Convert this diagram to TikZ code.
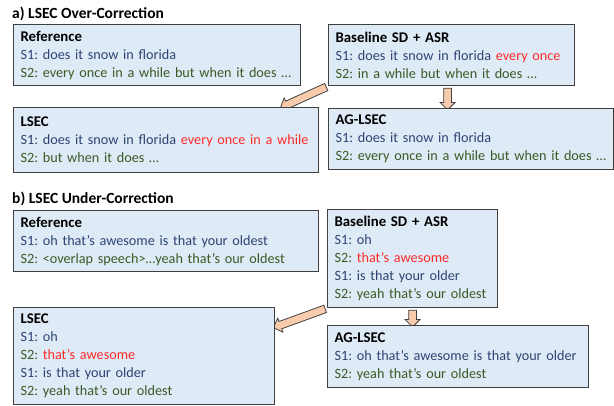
\documentclass[tikz,border=0pt]{standalone}
\usepackage{fontspec}
\setmainfont{Carlito}
\usetikzlibrary{shapes.arrows,calc,backgrounds}
\definecolor{boxfill}{HTML}{DEEAF5}
\definecolor{boxline}{HTML}{404040}
\definecolor{arrowfill}{HTML}{F8CBAD}
\definecolor{sone}{HTML}{2F4475}
\definecolor{stwo}{HTML}{3C5A27}
\definecolor{wrong}{HTML}{FF2B2B}
\frenchspacing
\newcommand\boxhead[1]{{\fontsize{14.8}{18}\selectfont\bfseries #1}}

\begin{document}
\begin{tikzpicture}[x=1pt,y=-1pt,
    txtbox/.style={draw=boxline,fill=boxfill,line width=1.2pt,anchor=north west,inner xsep=7pt,inner ysep=0pt,align=left,font=\fontsize{14.2}{18}\selectfont},
    heading/.style={anchor=base west,inner sep=0pt,font=\fontsize{15.5}{18}\selectfont\bfseries},
    fatarrow/.style={single arrow,draw=boxline,fill=arrowfill,line width=0.8pt,inner sep=0pt,text width=0pt,text height=3.5pt,text depth=3.5pt,single arrow head extend=3.5pt,single arrow head indent=0pt}]

    \useasboundingbox (0,0) rectangle (614,405);

    % a) over-correction
    \node[heading] (headA) at (12,18) {a) LSEC Over-Correction};
    \node[txtbox,text width=273pt,minimum height=61pt] (refA) at (13,24)
        {\boxhead{Reference}\\{\color{sone}S1: does it snow in florida}\\{\color{stwo}S2: every once in a while but when it does …}};
    \node[txtbox,text width=232pt,minimum height=61pt] (baseA) at (328,24)
        {\boxhead{Baseline SD + ASR}\\{\color{sone}S1: does it snow in florida \color{wrong}every once}\\{\color{stwo}S2: in a while but when it does …}};
    \node[txtbox,text width=291pt,minimum height=65pt] (lsecA) at (13,107)
        {\boxhead{LSEC}\\{\color{sone}S1: does it snow in florida \color{wrong}every once in a while}\\{\color{stwo}S2: but when it does …}};
    \node[txtbox,text width=271pt,minimum height=61pt] (agA) at (328,108)
        {\boxhead{AG-LSEC}\\{\color{sone}S1: does it snow in florida}\\{\color{stwo}S2: every once in a while but when it does …}};

    % b) under-correction
    \node[heading] (headB) at (12,203) {b) LSEC Under-Correction};
    \node[txtbox,text width=291pt,minimum height=61pt] (refB) at (13,210)
        {\boxhead{Reference}\\{\color{sone}S1: oh that’s awesome is that your oldest}\\{\color{stwo}S2: <overlap speech>…yeah that’s our oldest}};
    \node[txtbox,text width=156pt,minimum height=98pt] (baseB) at (327,209)
        {\boxhead{Baseline SD + ASR}\\{\color{sone}S1: oh}\\{\color{stwo}S2: \color{wrong}that’s awesome}\\{\color{sone}S1: is that your older}\\{\color{stwo}S2: yeah that’s our oldest}};
    \node[txtbox,text width=247pt,minimum height=97pt] (lsecB) at (13,307)
        {\boxhead{LSEC}\\{\color{sone}S1: oh}\\{\color{stwo}S2: \color{wrong}that’s awesome}\\{\color{sone}S1: is that your older}\\{\color{stwo}S2: yeah that’s our oldest}};
    \node[txtbox,text width=247pt,minimum height=62pt] (agB) at (327,325)
        {\boxhead{AG-LSEC}\\{\color{sone}S1: oh that’s awesome is that your older}\\{\color{stwo}S2: yeah that’s our oldest}};

    \coordinate (tipA) at ([xshift=-37pt]lsecA.north east);
    \coordinate (tipB) at ([yshift=-20pt]lsecB.north east);
    \coordinate (downA) at ([xshift=-4pt]baseA.south);
    \coordinate (landA) at (downA |- agA.north);
    \coordinate (downB) at (baseB.south);
    \coordinate (landB) at (downB |- agB.north);

    \begin{scope}[on background layer]
        \foreach \from/\to in {baseA.south west/tipA, downA/landA, baseB.south west/tipB, downB/landB}
            \path let \p1=($(\to)-(\from)$), \n1={atan2(\y1,\x1)}, \n2={veclen(\x1,\y1)} in
                node[fatarrow,minimum height=\n2,rotate=\n1] at ($(\from)!0.5!(\to)$) {};
    \end{scope}
\end{tikzpicture}
\end{document}
